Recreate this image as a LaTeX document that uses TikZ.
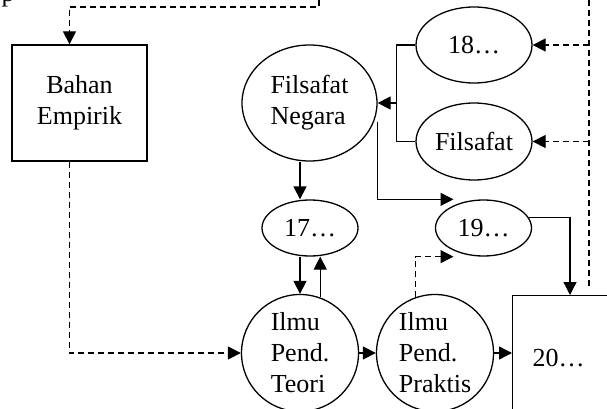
\documentclass[tikz,border=0pt]{standalone}
\usepackage{fontspec}
\setmainfont{Liberation Serif}
\usetikzlibrary{arrows.meta,shapes.geometric}

\begin{document}
\begin{tikzpicture}[x=1pt,y=-1pt,line width=1.3pt,
  font=\fontsize{26}{31}\selectfont,
  arr/.style={-{Triangle[length=13pt,width=13pt]}},
  dsh/.style={dash pattern=on 6pt off 4pt},
  oval/.style={draw,ellipse,inner sep=0pt},
  bulat/.style={draw,circle,inner sep=0pt,minimum size=117pt,align=left}]
\useasboundingbox (0,0) rectangle (607,409);

% cut-off text at the top
\node[anchor=base west,inner sep=0pt] (potong) at (1,2) {p};

% the nodes
\node[draw,minimum width=135pt,minimum height=116pt,align=center] (bahan) at (79.5,103) {Bahan\\Empirik};
\node[oval,minimum width=135pt,minimum height=116pt,align=left] (fn) at (309.5,103) {Filsafat\\Negara};
\node[oval,minimum width=116pt,minimum height=76pt] (e18) at (474,45) {18…};
\node[oval,minimum width=116pt,minimum height=77pt] (fil) at (474,141.5) {Filsafat};
\node[oval,minimum width=96pt,minimum height=56pt] (e17) at (310,228) {17…};
\node[oval,minimum width=96pt,minimum height=56pt] (e19) at (483.5,228) {19…};
\node[bulat] (teori) at (300,353) {Ilmu\\Pend.\\Teori};
\node[bulat] (praktis) at (435,353) {Ilmu\\Pend.\\Praktis};
\node[draw,anchor=north west,minimum height=124pt,text width=70pt,inner xsep=20pt,align=left] (b20) at (512,295) {20…};

% loose ends of the dashed lines
\coordinate (tin) at (319,0);
\coordinate (tbend) at (319,7);
\coordinate (rin) at (589,0);
\coordinate (rend) at (589,288);

% dashed lines
\draw[dsh,arr] (tin) -- (tbend) -| ([xshift=-10pt]bahan.north);
\draw[dsh,arr] ([xshift=-10pt]bahan.south) |- (teori.west);
\draw[dsh] (rin) -- (rend);
\draw[dsh,arr] (rin |- e18.east) -- (e18.east);
\draw[dsh,arr] (rin |- fil.east) -- (fil.east);
\draw[dsh,arr] (praktis.109) |- ([xshift=-30pt]e19.south);

% solid lines
\draw (e18.west) -- ++(-19,0) coordinate (brk) |- (fil.west);
\draw[arr] (brk |- fn.east) -- (fn.east);
\draw[arr] (teori.north |- fn.south) -- (teori.north |- e17.north);
\draw[arr] (teori.north |- e17.south) -- (teori.north);
\draw[arr] (teori.70) -- (teori.70 |- e17.south);
\draw[arr] ([yshift=-19pt]fn.east) |- ([xshift=-30pt]e19.north);
\draw[arr] (e19.13) -| ([xshift=58pt]b20.north west);
\draw[arr] (teori.east) -- (praktis.west);
\draw[arr] (praktis.east) -- (praktis.east -| b20.west);
\end{tikzpicture}
\end{document}
